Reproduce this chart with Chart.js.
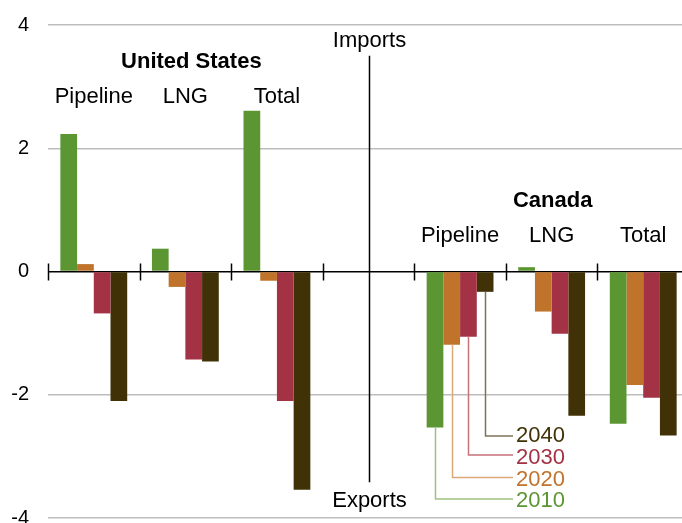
<!DOCTYPE html>
<html>
<head>
<meta charset="utf-8">
<script src="https://cdn.jsdelivr.net/npm/chart.js@4"></script>
<style>
  html, body { margin: 0; padding: 0; background: #fff; overflow: hidden; }
  #wrap { width: 689px; height: 530px; }
</style>
</head>
<body>
<div id="wrap"><canvas id="chart" width="689" height="530"></canvas></div>
<script>
const categories = ["Pipeline", "LNG", "Total", "", "Pipeline", "LNG", "Total"];
const regions = ["United States", "Canada"];
const years = ["2010", "2020", "2030", "2040"];
const s2010 = [2.23, 0.37, 2.61, null, -2.53, 0.07, -2.47];
const s2020 = [0.12, -0.25, -0.15, null, -1.19, -0.65, -1.84];
const s2030 = [-0.68, -1.43, -2.10, null, -1.06, -1.01, -2.05];
const s2040 = [-2.10, -1.46, -3.54, null, -0.33, -2.34, -2.66];
const yTicks = [-4, -2, 0, 2, 4];
const colors = ["#5c9632", "#c0732b", "#a33344", "#403206"];
const lineColors = ["#9ec27e", "#dba877", "#c7727c", "#7d7357"];

const FONT = '"Liberation Sans", Arial, sans-serif';

// annotations: region headers, category names, imports/exports divider, year callouts
const annotations = {
  id: "annotations",
  afterDraw(chart) {
    const ctx = chart.ctx;
    const x = chart.scales.x;
    const y = chart.scales.y;
    const y0 = y.getPixelForValue(0);
    const half = (x.getPixelForValue(1) - x.getPixelForValue(0)) / 2;
    ctx.save();

    // tick marks across the zero line at category boundaries
    ctx.strokeStyle = "#000";
    ctx.lineWidth = 1.5;
    for (let i = 0; i <= categories.length; i++) {
      const bx = Math.round(x.getPixelForValue(i) - half) + 0.5;
      ctx.beginPath();
      ctx.moveTo(bx, y0 - 8);
      ctx.lineTo(bx, y0 + 9);
      ctx.stroke();
    }

    // divider
    const mid = Math.round(x.getPixelForValue(3)) + 0.5;
    ctx.beginPath();
    ctx.moveTo(mid, y.getPixelForValue(3.5));
    ctx.lineTo(mid, y.getPixelForValue(-3.42));
    ctx.stroke();

    ctx.fillStyle = "#000";
    ctx.textAlign = "center";
    ctx.textBaseline = "alphabetic";
    ctx.font = "22px " + FONT;
    ctx.fillText("Imports", mid, 47);
    ctx.fillText("Exports", mid, 507);

    ctx.font = "bold 22px " + FONT;
    ctx.fillText(regions[0], x.getPixelForValue(1) + 6, 68);
    ctx.fillText(regions[1], x.getPixelForValue(5) + 1, 207);

    ctx.font = "22px " + FONT;
    for (let i = 0; i < 3; i++) ctx.fillText(categories[i], x.getPixelForValue(i), 103);
    for (let i = 4; i < 7; i++) ctx.fillText(categories[i], x.getPixelForValue(i), 242);

    // year callouts from the Canada pipeline bars
    const lineY = [499, 477.5, 455, 436];
    const textY = [507, 485.5, 464, 442];
    ctx.textAlign = "left";
    ctx.lineWidth = 1.5;
    for (let d = 0; d < years.length; d++) {
      const bar = chart.getDatasetMeta(d).data[4];
      const bx = Math.round(bar.x) + 0.5;
      ctx.strokeStyle = lineColors[d];
      ctx.beginPath();
      ctx.moveTo(bx, bar.y);
      ctx.lineTo(bx, lineY[d]);
      ctx.lineTo(513, lineY[d]);
      ctx.stroke();
      ctx.fillStyle = colors[d];
      ctx.fillText(years[d], 516, textY[d]);
    }
    ctx.restore();
  }
};

const series = [s2010, s2020, s2030, s2040];

new Chart(document.getElementById("chart"), {
  type: "bar",
  data: {
    labels: categories.map((c, i) => i + ":" + c),
    datasets: years.map((yr, i) => ({
      label: yr,
      data: series[i],
      backgroundColor: colors[i],
      borderWidth: 0,
      categoryPercentage: 0.73,
      barPercentage: 1.0
    }))
  },
  options: {
    responsive: false,
    animation: false,
    devicePixelRatio: 1,
    layout: { padding: { top: 25, bottom: 12, left: 0, right: 0 } },
    plugins: { legend: { display: false }, tooltip: { enabled: false } },
    scales: {
      x: { display: false, offset: true, grid: { display: false } },
      y: {
        min: yTicks[0],
        max: yTicks[yTicks.length - 1],
        afterFit: s => {
          s.width = 48;
          s.paddingTop = 0;
          s.paddingBottom = 0;
        },
        ticks: {
          stepSize: 2,
          padding: 19,
          color: "#000",
          font: { size: 20, family: FONT }
        },
        border: { display: false },
        grid: {
          drawTicks: false,
          color: c => (c.tick.value === 0 ? "#000" : "#bdbdbd"),
          lineWidth: 1.5
        }
      }
    }
  },
  plugins: [annotations]
});
</script>
</body>
</html>
